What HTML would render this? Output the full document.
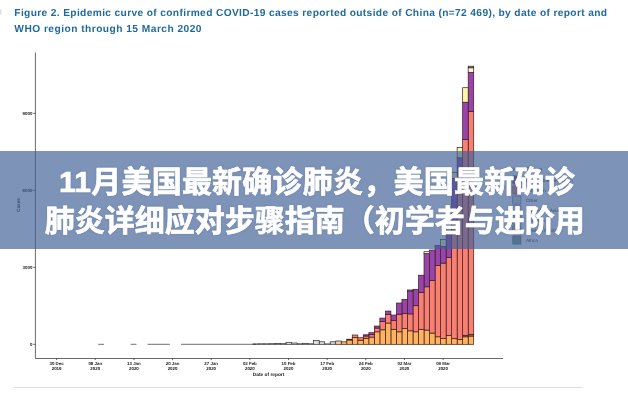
<!DOCTYPE html>
<html lang="zh-CN"><head><meta charset="utf-8"><title>11月美国最新确诊肺炎</title>
<style>
html,body{margin:0;padding:0}
body{width:628px;height:400px;overflow:hidden;background:#fff;position:relative;font-family:"Liberation Sans",sans-serif}
.fig{position:absolute;left:0;top:0;width:628px;height:400px;overflow:hidden;filter:blur(.35px)}
.cap{position:absolute;left:14.3px;top:6.1px;margin:0;width:640px;font-size:10.2px;line-height:15.5px;font-weight:bold;color:#1f6a9c;white-space:nowrap;letter-spacing:.36px;text-rendering:geometricPrecision}
.cap span{letter-spacing:.47px}
.chart{position:absolute;left:0;top:0}
.banner{position:absolute;left:0;top:151px;width:628px;height:98px;background:rgba(64,96,149,.68);overflow:hidden}
.hl{position:absolute;left:0;top:0;filter:drop-shadow(0 0 1px rgba(30,45,80,.15))}
.banner h2{position:absolute;left:30px;top:10px;width:568px;height:78px;margin:0;overflow:hidden;font-size:30px;line-height:39px;font-weight:bold;text-align:center;color:transparent}
</style></head>
<body>
<div class="fig">
<p class="cap">Figure 2. Epidemic curve of confirmed COVID-19 cases reported outside of China (n=72 469), by date of report and<br><span>WHO region through 15 March 2020</span></p>
<svg class="chart" width="628" height="400" viewBox="0 0 628 400" role="img" aria-label="Epidemic curve bar chart"><g stroke="#3d1a1c" stroke-width=".7" shape-rendering="auto"><rect x="468.18" y="336.05" width="5.52" height="8.25" fill="#fcb45f"/><rect x="468.18" y="334.3" width="5.52" height="1.75" fill="#9c7a3c"/><rect x="468.18" y="111.3" width="5.52" height="223" fill="#f78073"/><rect x="468.18" y="72.3" width="5.52" height="39" fill="#9845ab"/><rect x="468.18" y="67.8" width="5.52" height="4.5" fill="#fdfbe6"/><rect x="468.18" y="66.2" width="5.52" height="1.6" fill="#7f9a8c"/><rect x="462.66" y="336.8" width="5.52" height="7.5" fill="#fcb45f"/><rect x="462.66" y="335.3" width="5.52" height="1.5" fill="#9c7a3c"/><rect x="462.66" y="139.5" width="5.52" height="195.8" fill="#f78073"/><rect x="462.66" y="102.2" width="5.52" height="37.3" fill="#9845ab"/><rect x="462.66" y="87.7" width="5.52" height="14.5" fill="#fbf6a8"/><rect x="457.14" y="339.5" width="5.52" height="4.8" fill="#fcb45f"/><rect x="457.14" y="191.3" width="5.52" height="148.2" fill="#f78073"/><rect x="457.14" y="157.8" width="5.52" height="33.5" fill="#9845ab"/><rect x="457.14" y="147.5" width="5.52" height="10.3" fill="#fbf6a8"/><rect x="451.62" y="338.7" width="5.52" height="5.6" fill="#fcb45f"/><rect x="451.62" y="221.3" width="5.52" height="117.4" fill="#f78073"/><rect x="451.62" y="178.3" width="5.52" height="43" fill="#9845ab"/><rect x="451.62" y="172.3" width="5.52" height="6" fill="#fbf6a8"/><rect x="446.1" y="335.3" width="5.52" height="9" fill="#fcb45f"/><rect x="446.1" y="257.5" width="5.52" height="77.8" fill="#f78073"/><rect x="446.1" y="231.3" width="5.52" height="26.2" fill="#9845ab"/><rect x="446.1" y="226.3" width="5.52" height="5" fill="#fbf6a8"/><rect x="440.58" y="338.6" width="5.52" height="5.7" fill="#fcb45f"/><rect x="440.58" y="263.1" width="5.52" height="75.5" fill="#f78073"/><rect x="440.58" y="246.3" width="5.52" height="16.8" fill="#9845ab"/><rect x="440.58" y="239.5" width="5.52" height="6.8" fill="#fbf6a8"/><rect x="435.06" y="336.8" width="5.52" height="7.5" fill="#fcb45f"/><rect x="435.06" y="265.5" width="5.52" height="71.3" fill="#f78073"/><rect x="435.06" y="245.5" width="5.52" height="20" fill="#9845ab"/><rect x="429.54" y="333.05" width="5.52" height="11.25" fill="#fcb45f"/><rect x="429.54" y="280.55" width="5.52" height="52.5" fill="#f78073"/><rect x="429.54" y="250" width="5.52" height="30.55" fill="#9845ab"/><rect x="424.02" y="330.05" width="5.52" height="14.25" fill="#fcb45f"/><rect x="424.02" y="286.8" width="5.52" height="43.25" fill="#f78073"/><rect x="424.02" y="253.55" width="5.52" height="33.25" fill="#9845ab"/><rect x="424.02" y="251.7" width="5.52" height="1.85" fill="#fdfbe6"/><rect x="418.5" y="329.3" width="5.52" height="15" fill="#fcb45f"/><rect x="418.5" y="292.3" width="5.52" height="37" fill="#f78073"/><rect x="418.5" y="275.2" width="5.52" height="17.1" fill="#9845ab"/><rect x="412.98" y="331.8" width="5.52" height="12.5" fill="#fcb45f"/><rect x="412.98" y="305.7" width="5.52" height="26.1" fill="#f78073"/><rect x="412.98" y="289.3" width="5.52" height="16.4" fill="#9845ab"/><rect x="407.46" y="330.8" width="5.52" height="13.5" fill="#fcb45f"/><rect x="407.46" y="313.9" width="5.52" height="16.9" fill="#f78073"/><rect x="407.46" y="290.9" width="5.52" height="23" fill="#9845ab"/><rect x="407.46" y="290" width="5.52" height="0.9" fill="#fdfbe6"/><rect x="401.94" y="328.55" width="5.52" height="15.75" fill="#fcb45f"/><rect x="401.94" y="313.55" width="5.52" height="15" fill="#f78073"/><rect x="401.94" y="299.3" width="5.52" height="14.25" fill="#9845ab"/><rect x="396.42" y="331.8" width="5.52" height="12.5" fill="#fcb45f"/><rect x="396.42" y="314.3" width="5.52" height="17.5" fill="#f78073"/><rect x="396.42" y="303.05" width="5.52" height="11.25" fill="#9845ab"/><rect x="390.9" y="329.3" width="5.52" height="15" fill="#fcb45f"/><rect x="390.9" y="320.55" width="5.52" height="8.75" fill="#f78073"/><rect x="390.9" y="315.05" width="5.52" height="5.5" fill="#9845ab"/><rect x="385.38" y="323.05" width="5.52" height="21.25" fill="#fcb45f"/><rect x="385.38" y="314.3" width="5.52" height="8.75" fill="#f78073"/><rect x="385.38" y="311.05" width="5.52" height="3.25" fill="#9845ab"/><rect x="379.86" y="329.8" width="5.52" height="14.5" fill="#fcb45f"/><rect x="379.86" y="321.5" width="5.52" height="8.3" fill="#f78073"/><rect x="379.86" y="318.1" width="5.52" height="3.4" fill="#9845ab"/><rect x="374.34" y="331.8" width="5.52" height="12.5" fill="#fcb45f"/><rect x="374.34" y="328.05" width="5.52" height="3.75" fill="#f78073"/><rect x="374.34" y="326.05" width="5.52" height="2" fill="#9845ab"/><rect x="368.82" y="337.1" width="5.52" height="7.2" fill="#fcb45f"/><rect x="368.82" y="334.7" width="5.52" height="2.4" fill="#f78073"/><rect x="368.82" y="332.7" width="5.52" height="2" fill="#9845ab"/><rect x="363.3" y="338.3" width="5.52" height="6" fill="#fcb45f"/><rect x="363.3" y="336" width="5.52" height="2.3" fill="#f78073"/><rect x="363.3" y="334.8" width="5.52" height="1.2" fill="#9845ab"/><rect x="357.78" y="340.2" width="5.52" height="4.1" fill="#fcb45f"/><rect x="357.78" y="337.7" width="5.52" height="2.5" fill="#f78073"/><rect x="352.26" y="337.4" width="5.52" height="6.9" fill="#fcb45f"/><rect x="352.26" y="335" width="5.52" height="2.4" fill="#f78073"/><rect x="346.74" y="340" width="5.52" height="4.3" fill="#fcb45f"/><rect x="346.74" y="339.2" width="5.52" height="0.8" fill="#9845ab"/><rect x="341.22" y="341.8" width="5.52" height="2.5" fill="#fcb45f"/><rect x="335.7" y="341" width="5.52" height="3.3" fill="#f5cfa3"/><rect x="330.18" y="341.8" width="5.52" height="2.5" fill="#d2d2d2" stroke="#2b2b2b"/><rect x="324.66" y="343.9" width="5.52" height="0.4" fill="#d2d2d2" stroke="#2b2b2b"/><rect x="319.14" y="341.8" width="5.52" height="2.5" fill="#dedede" stroke="#2b2b2b"/><rect x="313.62" y="340.5" width="5.52" height="3.8" fill="#dedede" stroke="#2b2b2b"/><rect x="308.1" y="343.8" width="5.52" height="0.5" fill="#d2d2d2" stroke="#2b2b2b"/><rect x="302.58" y="343.3" width="5.52" height="1" fill="#d2d2d2" stroke="#2b2b2b"/><rect x="297.06" y="343.8" width="5.52" height="0.5" fill="#d2d2d2" stroke="#2b2b2b"/><rect x="291.54" y="343" width="5.52" height="1.3" fill="#dedede" stroke="#2b2b2b"/><rect x="286.02" y="342.3" width="5.52" height="2" fill="#dedede" stroke="#2b2b2b"/><rect x="280.5" y="343.7" width="5.52" height="0.6" fill="#d2d2d2" stroke="#2b2b2b"/><rect x="274.98" y="343.5" width="5.52" height="0.8" fill="#d2d2d2" stroke="#2b2b2b"/><rect x="269.46" y="343.7" width="5.52" height="0.6" fill="#d2d2d2" stroke="#2b2b2b"/><rect x="263.94" y="343.8" width="5.52" height="0.5" fill="#d2d2d2" stroke="#2b2b2b"/><rect x="258.42" y="343.8" width="5.52" height="0.5" fill="#d2d2d2" stroke="#2b2b2b"/><rect x="252.9" y="343.9" width="5.52" height="0.4" fill="#d2d2d2" stroke="#2b2b2b"/></g><g stroke="#333" stroke-width=".7"><line x1="98.2" y1="344.3" x2="104" y2="344.3"/><line x1="130.7" y1="344.3" x2="136.4" y2="344.3"/><line x1="147.6" y1="344.3" x2="169.9" y2="344.3"/><line x1="181" y1="344.3" x2="256" y2="344.3"/></g><g stroke="#2a2a2a" stroke-width=".7" fill="none"><path d="M35.4 52.5V358.5H503"/><path d="M33.2 113.3H35.4"/><path d="M33.2 190.3H35.4"/><path d="M33.2 267.3H35.4"/><path d="M33.2 344.3H35.4"/><path d="M56.6 358.5v1.6"/><path d="M95.25 358.5v1.6"/><path d="M133.9 358.5v1.6"/><path d="M172.55 358.5v1.6"/><path d="M211.2 358.5v1.6"/><path d="M249.85 358.5v1.6"/><path d="M288.5 358.5v1.6"/><path d="M327.15 358.5v1.6"/><path d="M365.8 358.5v1.6"/><path d="M404.45 358.5v1.6"/><path d="M443.1 358.5v1.6"/></g><g text-rendering="geometricPrecision" font-family="Liberation Sans, sans-serif" font-size="4.4" fill="#222" font-weight="bold"><text x="32.4" y="114.8" text-anchor="end">9000</text><text x="32.4" y="191.8" text-anchor="end">6000</text><text x="32.4" y="268.8" text-anchor="end">3000</text><text x="32.4" y="345.8" text-anchor="end">0</text><text x="56.6" y="365" text-anchor="middle">30 Dec</text><text x="56.6" y="369.8" text-anchor="middle">2019</text><text x="95.25" y="365" text-anchor="middle">06 Jan</text><text x="95.25" y="369.8" text-anchor="middle">2020</text><text x="133.9" y="365" text-anchor="middle">13 Jan</text><text x="133.9" y="369.8" text-anchor="middle">2020</text><text x="172.55" y="365" text-anchor="middle">20 Jan</text><text x="172.55" y="369.8" text-anchor="middle">2020</text><text x="211.2" y="365" text-anchor="middle">27 Jan</text><text x="211.2" y="369.8" text-anchor="middle">2020</text><text x="249.85" y="365" text-anchor="middle">03 Feb</text><text x="249.85" y="369.8" text-anchor="middle">2020</text><text x="288.5" y="365" text-anchor="middle">10 Feb</text><text x="288.5" y="369.8" text-anchor="middle">2020</text><text x="327.15" y="365" text-anchor="middle">17 Feb</text><text x="327.15" y="369.8" text-anchor="middle">2020</text><text x="365.8" y="365" text-anchor="middle">24 Feb</text><text x="365.8" y="369.8" text-anchor="middle">2020</text><text x="404.45" y="365" text-anchor="middle">02 Mar</text><text x="404.45" y="369.8" text-anchor="middle">2020</text><text x="443.1" y="365" text-anchor="middle">09 Mar</text><text x="443.1" y="369.8" text-anchor="middle">2020</text><text x="268.6" y="375.6" text-anchor="middle" font-size="4.8">Date of report</text><text transform="translate(19.8 205) rotate(-90)" text-anchor="middle" font-size="4.7">Cases</text></g><g text-rendering="geometricPrecision" font-family="Liberation Sans, sans-serif" font-size="4.6" fill="#333"><text x="512.5" y="170.5" font-size="5">WHO Region</text><rect x="512.8" y="175.9" width="8.2" height="8.2" fill="#9845ab" stroke="#444" stroke-width=".5"/><text x="526" y="181.6">Eastern Mediterranean</text><rect x="512.8" y="185.9" width="8.2" height="8.2" fill="#f78073" stroke="#444" stroke-width=".5"/><text x="526" y="191.6">European</text><rect x="512.8" y="195.9" width="8.2" height="8.2" fill="#d2d2d2" stroke="#444" stroke-width=".5"/><text x="526" y="201.6">Other</text><rect x="512.8" y="205.9" width="8.2" height="8.2" fill="#fdfbe6" stroke="#444" stroke-width=".5"/><text x="526" y="211.6">South-East Asia</text><rect x="512.8" y="215.9" width="8.2" height="8.2" fill="#fbf6a8" stroke="#444" stroke-width=".5"/><text x="526" y="221.6">Americas</text><rect x="512.8" y="225.9" width="8.2" height="8.2" fill="#fcb45f" stroke="#444" stroke-width=".5"/><text x="526" y="231.6">Western Pacific</text><rect x="512.8" y="235.9" width="8.2" height="8.2" fill="#7f9a8c" stroke="#444" stroke-width=".5"/><text x="526" y="241.6">Africa</text></g><path d="M13.5 387.5H582.5" stroke="#dedede" stroke-width="1"/><rect x="0" y="9.5" width="1.4" height="5" fill="#cfe2f0"/></svg>
</div>
<div class="banner">
<svg class="hl" width="628" height="98" viewBox="0 0 628 98" aria-hidden="true"><g fill="#fff" stroke="#fff" stroke-width=".7" stroke-linejoin="round" font-family="&quot;Liberation Sans&quot;, &quot;Noto Sans CJK SC&quot;, sans-serif" font-size="30" font-weight="bold"><text x="59" y="40.9" textLength="515.7" lengthAdjust="spacing">11月美国最新确诊肺炎，美国最新确诊</text><text x="44.7" y="79.9" textLength="540" lengthAdjust="spacing">肺炎详细应对步骤指南（初学者与进阶用</text></g></svg>
<h2>11月美国最新确诊肺炎，美国最新确诊肺炎详细应对步骤指南（初学者与进阶用户适用）</h2>
</div>
</body></html>
